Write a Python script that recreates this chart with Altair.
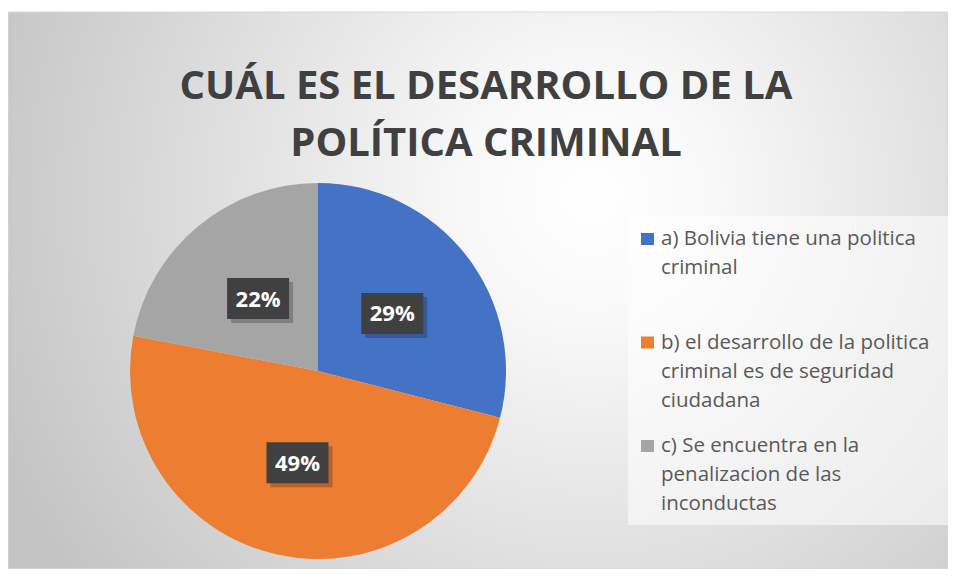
import altair as alt
import pandas as pd

# ---- data ----
title_lines = ["CUÁL ES EL DESARROLLO DE LA", "POLÍTICA CRIMINAL"]
categories = [
    "a) Bolivia tiene una politica criminal",
    "b) el desarrollo de la politica criminal es de seguridad ciudadana",
    "c) Se encuentra en la penalizacion de las inconductas",
]
legend_lines = [
    ["a) Bolivia tiene una politica", "criminal"],
    ["b) el desarrollo de la politica", "criminal es de seguridad", "ciudadana"],
    ["c) Se encuentra en la", "penalizacion de las", "inconductas"],
]
percent = [29, 49, 22]
colors = ["#4472C4", "#ED7D31", "#A5A5A5"]

# ---- layout constants ----
W, H = 940, 557
CX, CY, R = 310, 359, 188
LABEL_R = 94
BOX_W, BOX_H = 62, 41
LEG_X0, LEG_Y0, LEG_X1, LEG_Y1 = 620, 204, 940, 513
LEG_FIRST, LEG_STEP, LINE_H = 233, 103.5, 29

df = pd.DataFrame({
    "category": categories,
    "value": percent,
    "order": list(range(len(categories))),
    "label": [f"{p}%" for p in percent],
})
color_scale = alt.Scale(domain=categories, range=colors)

one = pd.DataFrame({"k": [0]})

bg = alt.Chart(one).mark_rect(
    fill=alt.RadialGradient(
        gradient="radial", x1=0.62, y1=0.4, r1=0, x2=0.62, y2=0.4, r2=0.68,
        stops=[alt.GradientStop(offset=0, color="#ffffff"),
               alt.GradientStop(offset=0.2, color="#f8f8f8"),
               alt.GradientStop(offset=1, color="#c4c4c4")]),
    stroke="#d9d9d9", strokeWidth=1,
).encode(x=alt.value(0), x2=alt.value(W), y=alt.value(0), y2=alt.value(H))

pie = alt.Chart(df).mark_arc(radius=R).encode(
    theta=alt.Theta("value:Q", stack=True),
    order=alt.Order("order:Q"),
    color=alt.Color("category:N", scale=color_scale, legend=None),
    x=alt.value(CX), y=alt.value(CY),
)

lab_base = alt.Chart(df).transform_joinaggregate(
    total="sum(value)"
).transform_window(
    cum="sum(value)", sort=[alt.SortField("order")], frame=[None, 0]
).transform_calculate(
    mid="(datum.cum - datum.value/2)/datum.total*2*PI",
).transform_calculate(
    lx=f"{CX} + {LABEL_R}*sin(datum.mid)",
    ly=f"{CY} - {LABEL_R}*cos(datum.mid)",
).transform_calculate(
    bx0=f"datum.lx - {BOX_W/2}", bx1=f"datum.lx + {BOX_W/2}",
    by0=f"datum.ly - {BOX_H/2}", by1=f"datum.ly + {BOX_H/2}",
    sx0=f"datum.lx - {BOX_W/2} + 4", sx1=f"datum.lx + {BOX_W/2} + 4",
    sy0=f"datum.ly - {BOX_H/2} + 4", sy1=f"datum.ly + {BOX_H/2} + 4",
)

shadow = lab_base.mark_rect(fill="#000000", opacity=0.22).encode(
    x=alt.X("sx0:Q", scale=None), x2="sx1:Q",
    y=alt.Y("sy0:Q", scale=None), y2="sy1:Q",
)
box = lab_base.mark_rect(fill="#404040").encode(
    x=alt.X("bx0:Q", scale=None), x2="bx1:Q",
    y=alt.Y("by0:Q", scale=None), y2="by1:Q",
)
lab_text = lab_base.mark_text(
    font="Open Sans", fontSize=22, fontWeight="bold", color="#ffffff",
    align="center", baseline="middle", dy=1,
).encode(
    x=alt.X("lx:Q", scale=None), y=alt.Y("ly:Q", scale=None), text="label:N"
)

leg_box = alt.Chart(one).mark_rect(fill="#ffffff", opacity=0.55).encode(
    x=alt.value(LEG_X0), x2=alt.value(LEG_X1), y=alt.value(LEG_Y0), y2=alt.value(LEG_Y1)
)

sq_df = pd.DataFrame({
    "category": categories,
    "yb": [LEG_FIRST + i * LEG_STEP for i in range(len(categories))],
})
sq_df["y0"] = sq_df["yb"] - 12
leg_sq = alt.Chart(sq_df).mark_rect().encode(
    x=alt.value(633), x2=alt.value(646),
    y=alt.Y("y0:Q", scale=None), y2="yb:Q",
    color=alt.Color("category:N", scale=color_scale, legend=None),
)

rows = []
for i, lines in enumerate(legend_lines):
    for j, line in enumerate(lines):
        rows.append({"line": line, "y": LEG_FIRST + i * LEG_STEP + j * LINE_H})
lt_df = pd.DataFrame(rows)
leg_text = alt.Chart(lt_df).mark_text(
    font="Open Sans", fontSize=20.5, color="#595959", align="left", baseline="alphabetic",
).encode(x=alt.value(653), y=alt.Y("y:Q", scale=None), text="line:N")

title = alt.Chart(one).mark_text(
    text=title_lines, font="Open Sans", fontSize=40, fontWeight="bold",
    color="#404040", align="center", baseline="alphabetic", lineHeight=57,
).encode(x=alt.value(478), y=alt.value(87))

chart = alt.layer(
    bg, pie, shadow, box, lab_text, leg_box, leg_sq, leg_text, title
).properties(
    width=W, height=H,
    padding={"left": 0, "top": 4, "right": 0, "bottom": 0},
    autosize=alt.AutoSizeParams(type="none"),
    background="#ffffff",
).configure_view(stroke=None)

chart.save("out.html", embed_options={"renderer": "svg", "actions": False})
